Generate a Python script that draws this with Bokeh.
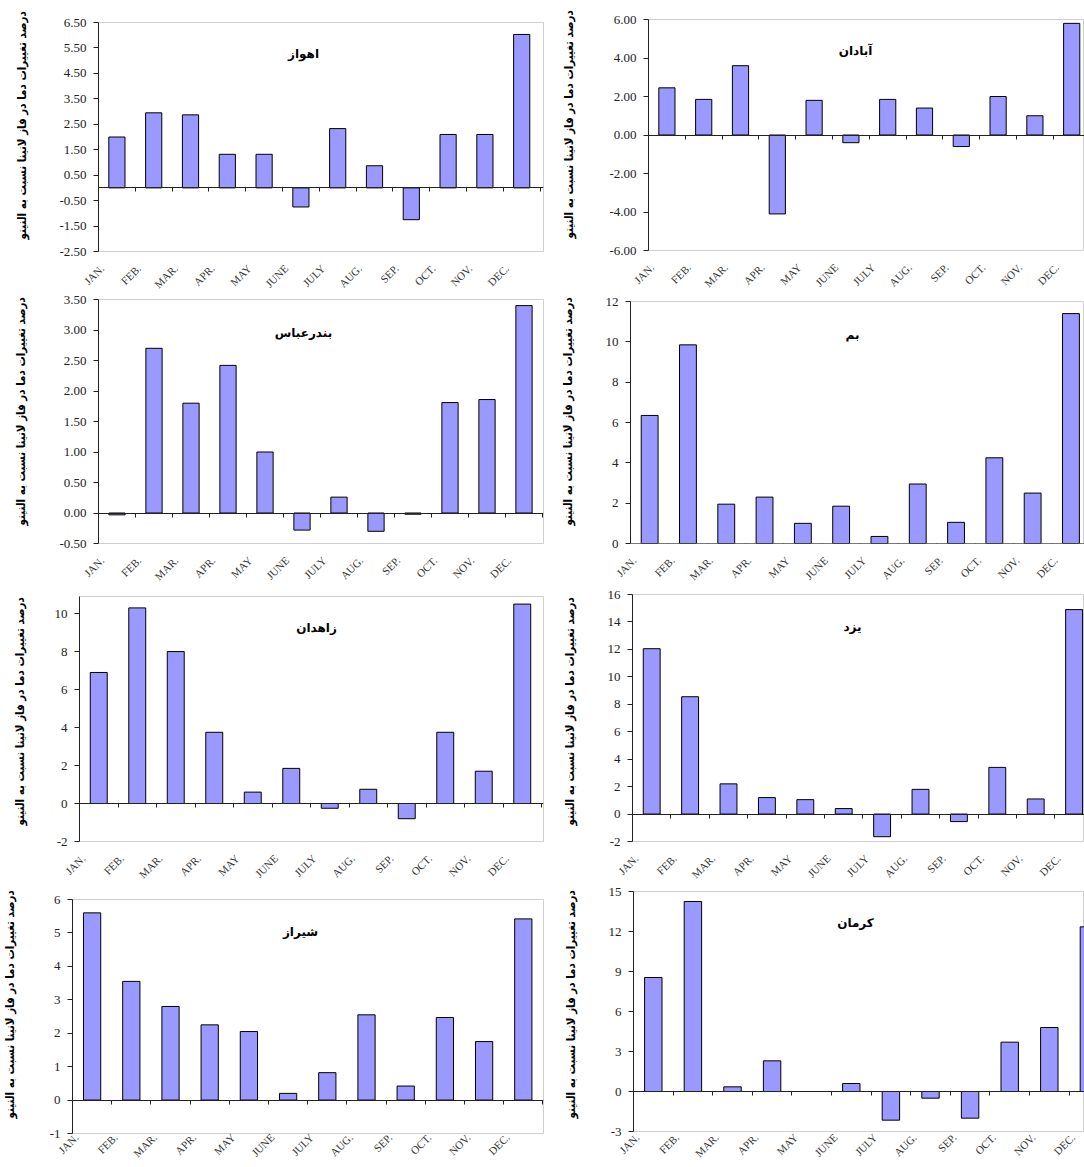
from bokeh.embed import file_html
from bokeh.layouts import column, row
from bokeh.models import ColumnDataSource, FixedTicker, Label, LinearAxis, NumeralTickFormatter, Range1d, Title
from bokeh.plotting import figure
from bokeh.resources import INLINE

months = ["JAN.", "FEB.", "MAR.", "APR.", "MAY", "JUNE", "JULY", "AUG.", "SEP.", "OCT.", "NOV.", "DEC."]
y_label = "درصد تغییرات دما در فاز لانینا نسبت به النینو"

ahvaz = [2.0, 2.95, 2.87, 1.32, 1.32, -0.75, 2.33, 0.87, -1.25, 2.1, 2.1, 6.03]
abadan = [2.45, 1.85, 3.6, -4.1, 1.8, -0.4, 1.85, 1.4, -0.6, 2.0, 1.0, 5.8]
bandar_abbas = [-0.03, 2.7, 1.8, 2.42, 1.0, -0.28, 0.26, -0.3, -0.02, 1.81, 1.86, 3.4]
bam = [6.35, 9.85, 1.95, 2.3, 1.0, 1.85, 0.35, 2.95, 1.05, 4.25, 2.5, 11.4]
zahedan = [6.9, 10.3, 8.0, 3.75, 0.6, 1.85, -0.25, 0.75, -0.8, 3.75, 1.7, 10.5]
yazd = [12.05, 8.55, 2.2, 1.2, 1.05, 0.4, -1.65, 1.8, -0.55, 3.4, 1.1, 14.9]
shiraz = [5.6, 3.55, 2.8, 2.25, 2.05, 0.2, 0.82, 2.55, 0.42, 2.47, 1.75, 5.42]
kerman = [8.55, 14.25, 0.35, 2.3, 0, 0.6, -2.15, -0.5, -2.0, 3.7, 4.8, 12.35]

ticks_ahvaz = [-2.5, -1.5, -0.5, 0.5, 1.5, 2.5, 3.5, 4.5, 5.5, 6.5]
ticks_abadan = [-6, -4, -2, 0, 2, 4, 6]
ticks_bandar = [-0.5, 0, 0.5, 1, 1.5, 2, 2.5, 3, 3.5]
ticks_bam = [0, 2, 4, 6, 8, 10, 12]
ticks_zahedan = [-2, 0, 2, 4, 6, 8, 10]
ticks_yazd = [-2, 0, 2, 4, 6, 8, 10, 12, 14, 16]
ticks_shiraz = [-1, 0, 1, 2, 3, 4, 5, 6]
ticks_kerman = [-3, 0, 3, 6, 9, 12, 15]

BOTTOM_ROOM = 47


def make_panel(name, values, ticks, ymin, ymax, fmt, box, col_x, prev_bottom, title_at, label_gap,
               month_standoff=15, label_end=12, window_bottom=None, top_room=8):
    # box = frame left, right, top, bottom in window pixels, col_x = column left and right
    left, right, top, bottom, step = box
    p_left, p_right = col_x
    p_top = top - top_room
    p_bottom = window_bottom if window_bottom else bottom + BOTTOM_ROOM
    xs = list(range(1, 13))
    source = ColumnDataSource(dict(x=xs, top=values))
    p = figure(
        width=p_right - p_left,
        height=p_bottom - p_top,
        x_range=Range1d(0.5, 0.5 + (right - left) / step),
        y_range=Range1d(ymin, ymax),
        min_border_left=left - p_left,
        min_border_right=p_right - right,
        min_border_top=top_room,
        min_border_bottom=p_bottom - bottom,
        margin=(p_top - prev_bottom, 0, 0, 0),
        frame_align=False,
        border_fill_color=None,
        toolbar_location=None,
        output_backend="svg",
    )
    p.grid.visible = False
    p.outline_line_color = "#cfcfcf"
    p.outline_line_width = 1

    p.vbar(x="x", top="top", bottom=0, width=0.44, source=source,
           fill_color="#9999FF", line_color="black", line_width=1)

    yaxis = p.yaxis[0]
    yaxis.ticker = FixedTicker(ticks=ticks)
    yaxis.formatter = NumeralTickFormatter(format=fmt)
    yaxis.axis_line_color = "#222222"
    yaxis.major_tick_line_color = "#222222"
    yaxis.major_tick_in = 0
    yaxis.major_tick_out = 5
    yaxis.minor_tick_line_color = None
    yaxis.major_label_standoff = 7
    yaxis.major_label_text_font = "Liberation Serif"
    yaxis.major_label_text_font_size = "13px"
    yaxis.major_label_text_color = "#222222"

    # month names under the frame, shifted left of the bars
    label_pos = [x - 0.4 for x in xs]
    xaxis = p.xaxis[0]
    xaxis.ticker = FixedTicker(ticks=label_pos)
    xaxis.major_label_overrides = dict(zip(label_pos, months))
    xaxis.major_label_orientation = 0.785
    xaxis.major_label_text_font = "Liberation Serif"
    xaxis.major_label_text_font_size = "11px"
    xaxis.major_label_text_color = "#333333"
    xaxis.major_label_standoff = month_standoff
    xaxis.axis_line_color = None
    xaxis.major_tick_line_color = None
    xaxis.major_tick_in = 0
    xaxis.major_tick_out = 0
    xaxis.minor_tick_line_color = None

    # zero line with the ticks between the months
    edges = [x + 0.5 for x in xs]
    zero = LinearAxis(fixed_location=0, ticker=FixedTicker(ticks=edges))
    zero.major_label_overrides = {e: "" for e in edges}
    zero.axis_line_color = "#222222"
    zero.major_tick_line_color = "#222222"
    zero.major_tick_in = 0
    zero.major_tick_out = 4
    zero.minor_tick_line_color = None
    p.add_layout(zero, "below")

    p.add_layout(Label(
        x=title_at[0] - left, y=bottom - title_at[1], x_units="screen", y_units="screen",
        text=name, text_font="DejaVu Sans", text_font_style="bold", text_font_size="12px",
        text_align="center", text_baseline="middle", text_color="black",
    ))

    # invisible axis, only pushes the rotated label away from the tick numbers
    spacer = LinearAxis(ticker=FixedTicker(ticks=[ymin]), axis_line_color=None, major_tick_line_alpha=0,
                        minor_tick_line_color=None, major_tick_in=0, major_tick_out=label_gap,
                        major_label_standoff=0, major_label_overrides={ymin: ""})
    p.add_layout(spacer, "left")
    p.add_layout(Title(
        text=y_label, align="left", offset=label_end, standoff=0,
        text_font="DejaVu Sans Condensed", text_font_style="bold", text_font_size="11.5px", text_color="black",
    ), "left")
    return p, p_bottom


LEFT = (0, 545)
RIGHT = (545, 1084)

p1, b = make_panel("اهواز", ahvaz, ticks_ahvaz, -2.5, 6.5, "0.00", (98, 543, 22, 251, 36.8), LEFT, 0, (303, 53), 28, top_room=16)
p3, b = make_panel("بندرعباس", bandar_abbas, ticks_bandar, -0.5, 3.5, "0.00", (98, 543, 299, 543, 37), LEFT, b, (303, 332), 29, label_end=18)
p5, b = make_panel("زاهدان", zahedan, ticks_zahedan, -2, 10.9, "0", (79, 543, 596, 841, 38.5), LEFT, b, (316, 627), 25, label_end=16)
p7, b = make_panel("شیراز", shiraz, ticks_shiraz, -1, 6, "0", (72, 543, 899, 1133, 39.2), LEFT, b, (300, 931), 30,
                   month_standoff=2, label_end=15, window_bottom=1167)

p2, b = make_panel("آبادان", abadan, ticks_abadan, -6, 6, "0.00", (648, 1084, 19, 250, 36.8), RIGHT, 0, (855, 50), 31, top_room=16)
p4, b = make_panel("بم", bam, ticks_bam, 0, 12, "0", (630, 1084, 301, 543, 38.3), RIGHT, b, (852, 334), 28, label_end=18)
p6, b = make_panel("یزد", yazd, ticks_yazd, -2, 16, "0", (632, 1084, 594, 841, 38.4), RIGHT, b, (852, 626), 28, label_end=16)
p8, b = make_panel("کرمان", kerman, ticks_kerman, -3, 15, "0", (633, 1084, 891, 1131, 39.6), RIGHT, b, (855, 922), 28,
                   month_standoff=4, label_end=13, window_bottom=1167)

page = row(column(p1, p3, p5, p7, spacing=0), column(p2, p4, p6, p8, spacing=0), spacing=0)
open("out.html", "w").write(file_html(page, INLINE))
